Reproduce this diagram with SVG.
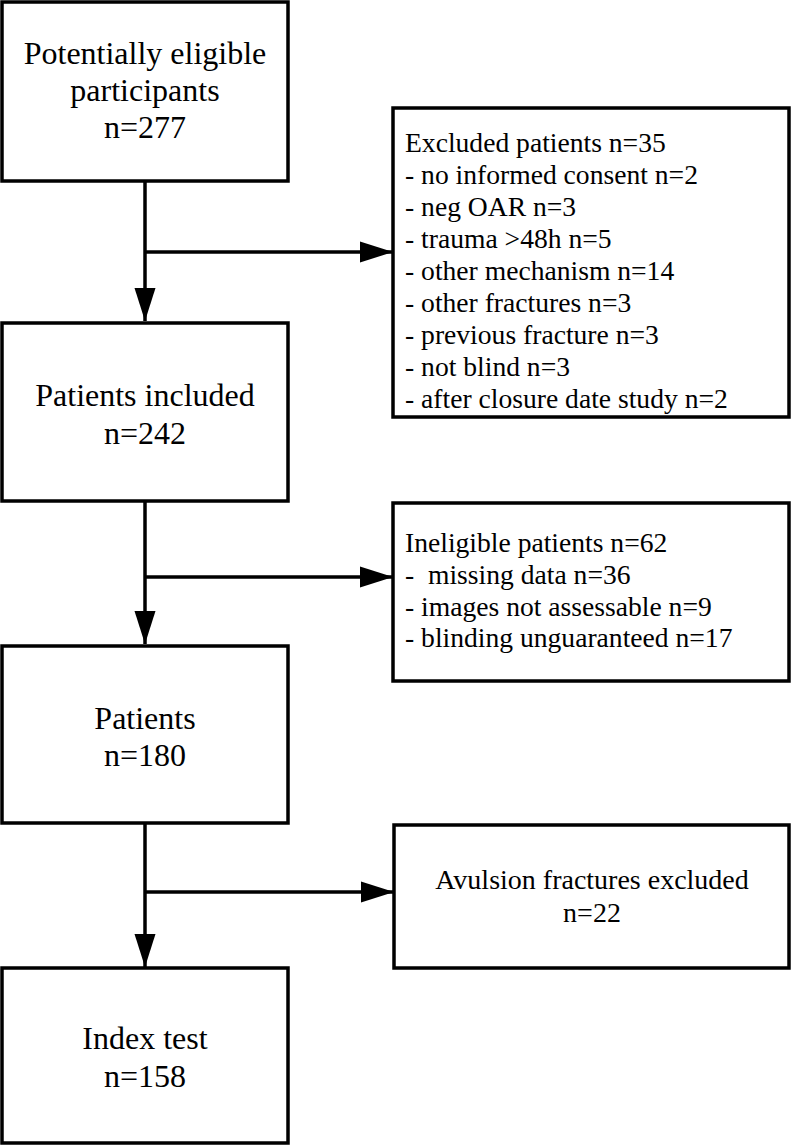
<svg xmlns="http://www.w3.org/2000/svg" width="791" height="1146" viewBox="0 0 791 1146">
<style>
.box{fill:#fff;stroke:#000;stroke-width:3.5}
.conn{fill:none;stroke:#000;stroke-width:3.5}
.t{font-family:"Liberation Serif","Times New Roman",serif;fill:#000}
.c{font-size:32px;text-anchor:middle}
.l{font-size:27.6px}
.a{font-size:28px;text-anchor:middle}
</style>
<defs>
<marker id="arr" markerUnits="userSpaceOnUse" markerWidth="34" markerHeight="22" refX="33" refY="10.5" orient="auto" viewBox="0 0 34 21">
<path d="M0,0 L33,10.5 L0,21 Z" fill="#000"/>
</marker>
</defs>
<g id="connectors">
<line class="conn" x1="145" y1="181" x2="145" y2="321" marker-end="url(#arr)"/>
<line class="conn" x1="145" y1="252" x2="393" y2="252" marker-end="url(#arr)"/>
<line class="conn" x1="145" y1="501" x2="145" y2="644" marker-end="url(#arr)"/>
<line class="conn" x1="145" y1="577" x2="393" y2="577" marker-end="url(#arr)"/>
<line class="conn" x1="145" y1="823" x2="145" y2="967" marker-end="url(#arr)"/>
<line class="conn" x1="145" y1="892" x2="394" y2="892" marker-end="url(#arr)"/>
</g>
<g id="n1">
<rect class="box" x="2" y="2" width="286" height="179"/>
<text class="t c" x="145" y="64">Potentially eligible</text>
<text class="t c" x="145" y="101">participants</text>
<text class="t c" x="145" y="138">n=277</text>
</g>
<g id="n2">
<rect class="box" x="393" y="108" width="396" height="309"/>
<text class="t l" x="405" y="152">Excluded patients n=35</text>
<text class="t l" x="405" y="184">- no informed consent n=2</text>
<text class="t l" x="405" y="216">- neg OAR n=3</text>
<text class="t l" x="405" y="248">- trauma &gt;48h n=5</text>
<text class="t l" x="405" y="280">- other mechanism n=14</text>
<text class="t l" x="405" y="312">- other fractures n=3</text>
<text class="t l" x="405" y="344">- previous fracture n=3</text>
<text class="t l" x="405" y="376">- not blind n=3</text>
<text class="t l" x="405" y="408">- after closure date study n=2</text>
</g>
<g id="n3">
<rect class="box" x="2" y="323" width="286" height="178"/>
<text class="t c" x="145" y="406">Patients included</text>
<text class="t c" x="145" y="444">n=242</text>
</g>
<g id="n4">
<rect class="box" x="393" y="503" width="396" height="178"/>
<text class="t l" x="405" y="552">Ineligible patients n=62</text>
<text class="t l" x="405" y="584" xml:space="preserve">-  missing data n=36</text>
<text class="t l" x="405" y="616">- images not assessable n=9</text>
<text class="t l" x="405" y="647">- blinding unguaranteed n=17</text>
</g>
<g id="n5">
<rect class="box" x="2" y="646" width="286" height="177"/>
<text class="t c" x="145" y="729">Patients</text>
<text class="t c" x="145" y="766">n=180</text>
</g>
<g id="n6">
<rect class="box" x="394" y="825" width="395" height="143"/>
<text class="t a" x="592" y="889">Avulsion fractures excluded</text>
<text class="t a" x="592" y="922">n=22</text>
</g>
<g id="n7">
<rect class="box" x="2" y="968" width="286" height="175"/>
<text class="t c" x="145" y="1049">Index test</text>
<text class="t c" x="145" y="1087">n=158</text>
</g>
</svg>
